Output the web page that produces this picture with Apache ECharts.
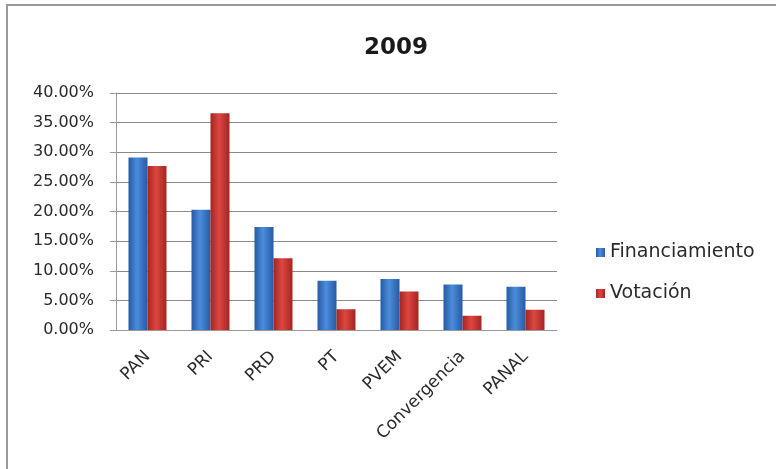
<!DOCTYPE html>
<html>
<head>
<meta charset="utf-8">
<script src="https://cdn.jsdelivr.net/npm/echarts@6/dist/echarts.min.js"></script>
<style>
  html, body { margin: 0; padding: 0; background: #fff; }
  #mainChart { width: 776px; height: 469px; }
</style>
</head>
<body>
<div id="mainChart"></div>
<script>
// datos 2009
var partidos = ['PAN', 'PRI', 'PRD', 'PT', 'PVEM', 'Convergencia', 'PANAL'];
var financiamiento = [29.1, 20.3, 17.4, 8.3, 8.6, 7.7, 7.3];
var votacion = [27.7, 36.6, 12.1, 3.5, 6.5, 2.4, 3.4];

function barGrad(edge, mid) {
    return new echarts.graphic.LinearGradient(0, 0, 1, 0, [
        { offset: 0, color: edge },
        { offset: 0.45, color: mid },
        { offset: 1, color: edge }
    ]);
}

var myChart = echarts.init(document.getElementById('mainChart'));
myChart.setOption({
    backgroundColor: '#fff',
    textStyle: { fontFamily: 'DejaVu Sans' },
    graphic: [{
        type: 'rect',
        shape: { x: 7, y: 5, width: 820, height: 520 },
        style: { fill: 'none', stroke: '#9a9a9a', lineWidth: 2 }
    }],
    title: {
        text: '2009',
        left: 391,
        textAlign: 'center',
        top: 32,
        textStyle: { fontSize: 23, fontWeight: 'bold', color: '#1a1a1a', fontFamily: 'DejaVu Sans' }
    },
    legend: {
        orient: 'vertical',
        left: 591,
        top: 238,
        itemWidth: 9,
        itemHeight: 9,
        itemGap: 22,
        icon: 'rect',
        textStyle: { fontSize: 19, color: '#2a2a2a', fontFamily: 'DejaVu Sans' },
        data: ['Financiamiento', 'Votación']
    },
    grid: { left: 116, right: 219, top: 93, bottom: 139 },
    xAxis: {
        type: 'category',
        data: partidos,
        axisLine: { lineStyle: { color: '#9a9a9a' } },
        axisTick: { show: false },
        axisLabel: { rotate: 45, fontSize: 17, color: '#2a2a2a', margin: 24 }
    },
    yAxis: {
        type: 'value',
        min: 0,
        max: 40,
        interval: 5,
        axisLine: { show: true, lineStyle: { color: '#9a9a9a' } },
        axisTick: { show: true, length: 6, lineStyle: { color: '#9a9a9a' } },
        splitLine: { lineStyle: { color: '#8a8a8a', width: 1 } },
        axisLabel: {
            fontSize: 16, color: '#2a2a2a', margin: 22,
            formatter: function (v) { return v.toFixed(2) + '%'; }
        }
    },
    series: [{
        name: 'Financiamiento',
        type: 'bar',
        data: financiamiento,
        barWidth: 19,
        barGap: '0%',
        color: '#3a74c4',
        itemStyle: { color: barGrad('#275aa3', '#4b8ddb') }
    }, {
        name: 'Votación',
        type: 'bar',
        data: votacion,
        barWidth: 19,
        color: '#c4302b',
        itemStyle: { color: barGrad('#a42521', '#dc4740') }
    }]
});
</script>
</body>
</html>
